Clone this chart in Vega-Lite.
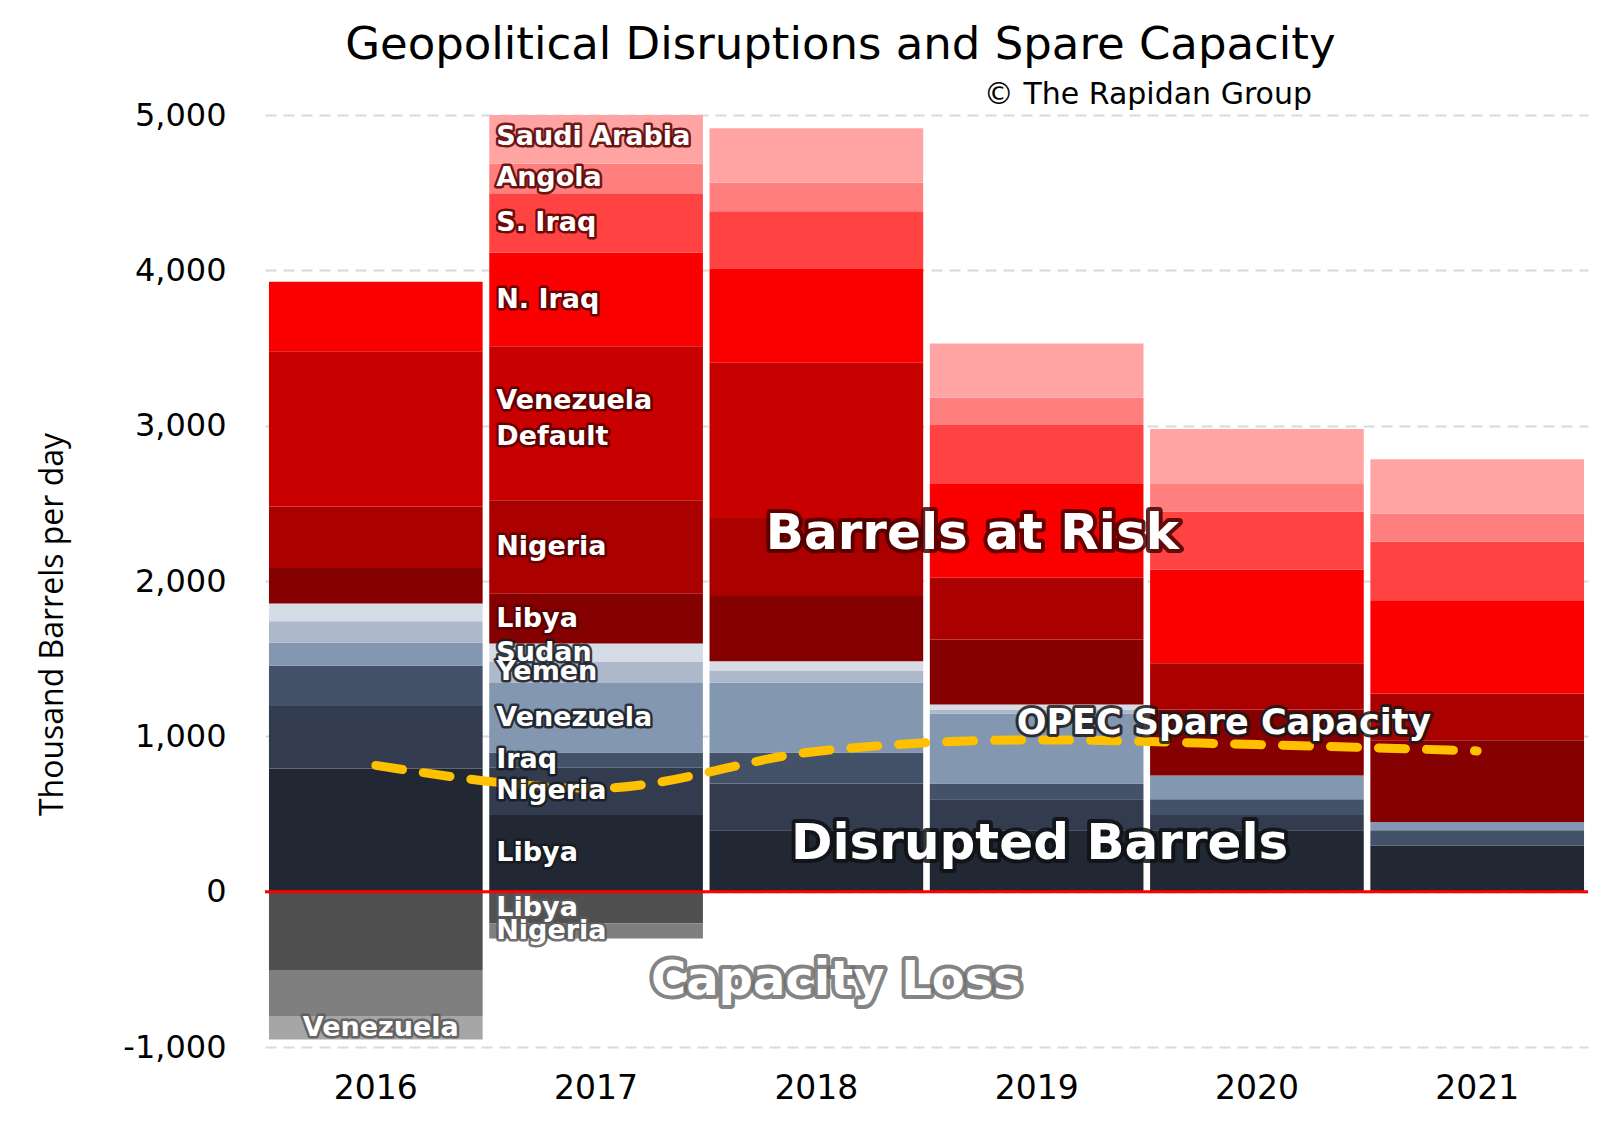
{
  "$schema": "https://vega.github.io/schema/vega-lite/v6.json",
  "width": 1323,
  "height": 932,
  "autosize": {"type": "none"},
  "padding": {"left": 265, "top": 115, "right": 36, "bottom": 77},
  "background": "#ffffff",
  "config": {"view": {"stroke": null}},
  "datasets": {
    "bars": [
      {"year": "2016", "type": "Disrupted", "series": "Disrupted: Libya", "order": 1, "value": 793, "label": ""},
      {"year": "2016", "type": "Disrupted", "series": "Disrupted: Nigeria", "order": 2, "value": 403, "label": ""},
      {"year": "2016", "type": "Disrupted", "series": "Disrupted: Iraq", "order": 3, "value": 260, "label": ""},
      {"year": "2016", "type": "Disrupted", "series": "Disrupted: Venezuela", "order": 4, "value": 148, "label": ""},
      {"year": "2016", "type": "Disrupted", "series": "Disrupted: Yemen", "order": 5, "value": 137, "label": ""},
      {"year": "2016", "type": "Disrupted", "series": "Disrupted: Sudan", "order": 6, "value": 114, "label": ""},
      {"year": "2016", "type": "At risk", "series": "At risk: Libya", "order": 7, "value": 228, "label": ""},
      {"year": "2016", "type": "At risk", "series": "At risk: Nigeria", "order": 8, "value": 396, "label": ""},
      {"year": "2016", "type": "At risk", "series": "At risk: Venezuela Default", "order": 9, "value": 1000, "label": ""},
      {"year": "2016", "type": "At risk", "series": "At risk: N. Iraq", "order": 10, "value": 448, "label": ""},
      {"year": "2016", "type": "Capacity loss", "series": "Capacity loss: Libya", "order": 14, "value": -505, "label": ""},
      {"year": "2016", "type": "Capacity loss", "series": "Capacity loss: Nigeria", "order": 15, "value": -296, "label": ""},
      {"year": "2016", "type": "Capacity loss", "series": "Capacity loss: Venezuela", "order": 16, "value": -150, "label": "Venezuela"},

      {"year": "2017", "type": "Disrupted", "series": "Disrupted: Libya", "order": 1, "value": 494, "label": "Libya"},
      {"year": "2017", "type": "Disrupted", "series": "Disrupted: Nigeria", "order": 2, "value": 303, "label": "Nigeria"},
      {"year": "2017", "type": "Disrupted", "series": "Disrupted: Iraq", "order": 3, "value": 99, "label": "Iraq"},
      {"year": "2017", "type": "Disrupted", "series": "Disrupted: Venezuela", "order": 4, "value": 448, "label": "Venezuela"},
      {"year": "2017", "type": "Disrupted", "series": "Disrupted: Yemen", "order": 5, "value": 135, "label": "Yemen"},
      {"year": "2017", "type": "Disrupted", "series": "Disrupted: Sudan", "order": 6, "value": 119, "label": "Sudan"},
      {"year": "2017", "type": "At risk", "series": "At risk: Libya", "order": 7, "value": 320, "label": "Libya"},
      {"year": "2017", "type": "At risk", "series": "At risk: Nigeria", "order": 8, "value": 602, "label": "Nigeria"},
      {"year": "2017", "type": "At risk", "series": "At risk: Venezuela Default", "order": 9, "value": 991, "label": "Venezuela\nDefault"},
      {"year": "2017", "type": "At risk", "series": "At risk: N. Iraq", "order": 10, "value": 602, "label": "N. Iraq"},
      {"year": "2017", "type": "At risk", "series": "At risk: S. Iraq", "order": 11, "value": 384, "label": "S. Iraq"},
      {"year": "2017", "type": "At risk", "series": "At risk: Angola", "order": 12, "value": 189, "label": "Angola"},
      {"year": "2017", "type": "At risk", "series": "At risk: Saudi Arabia", "order": 13, "value": 350, "label": "Saudi Arabia"},
      {"year": "2017", "type": "Capacity loss", "series": "Capacity loss: Libya", "order": 14, "value": -205, "label": "Libya"},
      {"year": "2017", "type": "Capacity loss", "series": "Capacity loss: Nigeria", "order": 15, "value": -96, "label": "Nigeria"},

      {"year": "2018", "type": "Disrupted", "series": "Disrupted: Libya", "order": 1, "value": 396, "label": ""},
      {"year": "2018", "type": "Disrupted", "series": "Disrupted: Nigeria", "order": 2, "value": 300, "label": ""},
      {"year": "2018", "type": "Disrupted", "series": "Disrupted: Iraq", "order": 3, "value": 200, "label": ""},
      {"year": "2018", "type": "Disrupted", "series": "Disrupted: Venezuela", "order": 4, "value": 451, "label": ""},
      {"year": "2018", "type": "Disrupted", "series": "Disrupted: Yemen", "order": 5, "value": 74, "label": ""},
      {"year": "2018", "type": "Disrupted", "series": "Disrupted: Sudan", "order": 6, "value": 63, "label": ""},
      {"year": "2018", "type": "At risk", "series": "At risk: Libya", "order": 7, "value": 420, "label": ""},
      {"year": "2018", "type": "At risk", "series": "At risk: Nigeria", "order": 8, "value": 501, "label": ""},
      {"year": "2018", "type": "At risk", "series": "At risk: Venezuela Default", "order": 9, "value": 1000, "label": ""},
      {"year": "2018", "type": "At risk", "series": "At risk: N. Iraq", "order": 10, "value": 603, "label": ""},
      {"year": "2018", "type": "At risk", "series": "At risk: S. Iraq", "order": 11, "value": 372, "label": ""},
      {"year": "2018", "type": "At risk", "series": "At risk: Angola", "order": 12, "value": 184, "label": ""},
      {"year": "2018", "type": "At risk", "series": "At risk: Saudi Arabia", "order": 13, "value": 351, "label": ""},

      {"year": "2019", "type": "Disrupted", "series": "Disrupted: Libya", "order": 1, "value": 396, "label": ""},
      {"year": "2019", "type": "Disrupted", "series": "Disrupted: Nigeria", "order": 2, "value": 199, "label": ""},
      {"year": "2019", "type": "Disrupted", "series": "Disrupted: Iraq", "order": 3, "value": 101, "label": ""},
      {"year": "2019", "type": "Disrupted", "series": "Disrupted: Venezuela", "order": 4, "value": 451, "label": ""},
      {"year": "2019", "type": "Disrupted", "series": "Disrupted: Yemen", "order": 5, "value": 26, "label": ""},
      {"year": "2019", "type": "Disrupted", "series": "Disrupted: Sudan", "order": 6, "value": 32, "label": ""},
      {"year": "2019", "type": "At risk", "series": "At risk: Libya", "order": 7, "value": 418, "label": ""},
      {"year": "2019", "type": "At risk", "series": "At risk: Nigeria", "order": 8, "value": 398, "label": ""},
      {"year": "2019", "type": "At risk", "series": "At risk: N. Iraq", "order": 10, "value": 603, "label": ""},
      {"year": "2019", "type": "At risk", "series": "At risk: S. Iraq", "order": 11, "value": 381, "label": ""},
      {"year": "2019", "type": "At risk", "series": "At risk: Angola", "order": 12, "value": 175, "label": ""},
      {"year": "2019", "type": "At risk", "series": "At risk: Saudi Arabia", "order": 13, "value": 349, "label": ""},

      {"year": "2020", "type": "Disrupted", "series": "Disrupted: Libya", "order": 1, "value": 396, "label": ""},
      {"year": "2020", "type": "Disrupted", "series": "Disrupted: Nigeria", "order": 2, "value": 98, "label": ""},
      {"year": "2020", "type": "Disrupted", "series": "Disrupted: Iraq", "order": 3, "value": 101, "label": ""},
      {"year": "2020", "type": "Disrupted", "series": "Disrupted: Venezuela", "order": 4, "value": 153, "label": ""},
      {"year": "2020", "type": "At risk", "series": "At risk: Libya", "order": 7, "value": 425, "label": ""},
      {"year": "2020", "type": "At risk", "series": "At risk: Nigeria", "order": 8, "value": 298, "label": ""},
      {"year": "2020", "type": "At risk", "series": "At risk: N. Iraq", "order": 10, "value": 601, "label": ""},
      {"year": "2020", "type": "At risk", "series": "At risk: S. Iraq", "order": 11, "value": 375, "label": ""},
      {"year": "2020", "type": "At risk", "series": "At risk: Angola", "order": 12, "value": 183, "label": ""},
      {"year": "2020", "type": "At risk", "series": "At risk: Saudi Arabia", "order": 13, "value": 349, "label": ""},

      {"year": "2021", "type": "Disrupted", "series": "Disrupted: Libya", "order": 1, "value": 295, "label": ""},
      {"year": "2021", "type": "Disrupted", "series": "Disrupted: Iraq", "order": 3, "value": 101, "label": ""},
      {"year": "2021", "type": "Disrupted", "series": "Disrupted: Venezuela", "order": 4, "value": 53, "label": ""},
      {"year": "2021", "type": "At risk", "series": "At risk: Libya", "order": 7, "value": 526, "label": ""},
      {"year": "2021", "type": "At risk", "series": "At risk: Nigeria", "order": 8, "value": 300, "label": ""},
      {"year": "2021", "type": "At risk", "series": "At risk: N. Iraq", "order": 10, "value": 601, "label": ""},
      {"year": "2021", "type": "At risk", "series": "At risk: S. Iraq", "order": 11, "value": 376, "label": ""},
      {"year": "2021", "type": "At risk", "series": "At risk: Angola", "order": 12, "value": 182, "label": ""},
      {"year": "2021", "type": "At risk", "series": "At risk: Saudi Arabia", "order": 13, "value": 350, "label": ""}
    ],
    "spare": [
      {"year": "2016", "capacity": 813},
      {"year": "2017", "capacity": 666},
      {"year": "2018", "capacity": 903},
      {"year": "2019", "capacity": 977},
      {"year": "2020", "capacity": 947},
      {"year": "2021", "capacity": 906}
    ],
    "one": [{}]
  },
  "layer": [
    {
      "data": {"name": "bars"},
      "transform": [
        {"stack": "value", "groupby": ["year"], "sort": [{"field": "order", "order": "ascending"}], "as": ["v0", "v1"], "offset": "zero"}
      ],
      "mark": {"type": "bar", "clip": true},
      "encoding": {
        "x": {"field": "year", "type": "nominal", "title": null,
          "scale": {"domain": ["2016", "2017", "2018", "2019", "2020", "2021"], "paddingInner": 0.03, "paddingOuter": 0.018},
          "axis": {"labelAngle": 0, "domain": false, "ticks": false, "grid": false, "labelFont": "DejaVu Sans", "labelFontSize": 33, "labelColor": "#000000", "labelPadding": 25}},
        "y": {"field": "v0", "type": "quantitative", "title": "Thousand Barrels per day",
          "scale": {"domain": [-1000, 5000], "nice": false, "zero": false},
          "axis": {"values": [-1000, 0, 1000, 2000, 3000, 4000, 5000], "format": ",",
            "labelExpr": "replace(format(datum.value, ','), '\u2212', '-')",
            "grid": true, "gridColor": "#D9D9D9", "gridDash": [11, 7], "gridWidth": 2,
            "domain": false, "ticks": false,
            "labelFont": "DejaVu Sans", "labelFontSize": 32, "labelColor": "#000000", "labelPadding": 39,
            "titleFont": "Open Sans", "titleFontSize": 32, "titleFontWeight": "normal", "titleColor": "#000000",
            "titleX": -213, "titleY": 509, "titleAngle": -90, "titleAlign": "center", "titleBaseline": "middle"}},
        "y2": {"field": "v1"},
        "color": {"field": "series", "type": "nominal", "legend": null,
          "scale": {
            "domain": ["Disrupted: Libya", "Disrupted: Nigeria", "Disrupted: Iraq", "Disrupted: Venezuela", "Disrupted: Yemen", "Disrupted: Sudan",
                       "At risk: Libya", "At risk: Nigeria", "At risk: Venezuela Default", "At risk: N. Iraq", "At risk: S. Iraq", "At risk: Angola", "At risk: Saudi Arabia",
                       "Capacity loss: Libya", "Capacity loss: Nigeria", "Capacity loss: Venezuela"],
            "range": ["#222833", "#323C4E", "#435269", "#8497B0", "#ADB9CA", "#D6DCE5",
                      "#850000", "#AA0000", "#C80000", "#FA0000", "#FF4343", "#FF7F7F", "#FFA3A3",
                      "#505050", "#7F7F7F", "#A6A6A6"]}}
      }
    },
    {
      "data": {"name": "one"},
      "mark": {"type": "rule", "color": "#FF0000", "strokeWidth": 3},
      "encoding": {"y": {"datum": 0, "type": "quantitative", "title": "Thousand Barrels per day"}}
    },
    {
      "data": {"name": "spare"},
      "mark": {"type": "line", "color": "#FFC000", "strokeWidth": 9, "strokeDash": [27, 21], "strokeCap": "round", "interpolate": "monotone"},
      "encoding": {
        "x": {"field": "year", "type": "nominal", "title": null},
        "y": {"field": "capacity", "type": "quantitative", "title": "Thousand Barrels per day"}
      }
    },
    {
      "data": {"name": "bars"},
      "transform": [
        {"stack": "value", "groupby": ["year"], "sort": [{"field": "order", "order": "ascending"}], "as": ["v0", "v1"], "offset": "zero"},
        {"calculate": "(datum.v0 + datum.v1) / 2", "as": "mid"},
        {"filter": "datum.label != '' && datum.year != '2016' && datum.order != 9"}
      ],
      "mark": {"type": "text", "align": "left", "baseline": "middle", "dx": 7, "font": "DejaVu Sans", "fontSize": 27, "fontWeight": "bold", "strokeWidth": 5, "strokeJoin": "round", "strokeOpacity": 0.85, "fill": "#222222"},
      "encoding": {
        "x": {"field": "year", "type": "nominal", "bandPosition": 0, "title": null},
        "y": {"field": "mid", "type": "quantitative", "title": "Thousand Barrels per day"},
        "text": {"field": "label"},
        "stroke": {"field": "type", "type": "nominal", "legend": null, "scale": {"domain": ["At risk", "Disrupted", "Capacity loss"], "range": ["#560000", "#161a22", "#5a5a5a"]}}
      }
    },
    {
      "data": {"name": "bars"},
      "transform": [
        {"stack": "value", "groupby": ["year"], "sort": [{"field": "order", "order": "ascending"}], "as": ["v0", "v1"], "offset": "zero"},
        {"calculate": "(datum.v0 + datum.v1) / 2", "as": "mid"},
        {"filter": "datum.label != '' && datum.year != '2016' && datum.order != 9"}
      ],
      "mark": {"type": "text", "align": "left", "baseline": "middle", "dx": 7, "font": "DejaVu Sans", "fontSize": 27, "fontWeight": "bold", "fill": "#FFFFFF"},
      "encoding": {
        "x": {"field": "year", "type": "nominal", "bandPosition": 0, "title": null},
        "y": {"field": "mid", "type": "quantitative", "title": "Thousand Barrels per day"},
        "text": {"field": "label"}
      }
    },
    {
      "data": {"name": "bars"},
      "transform": [
        {"stack": "value", "groupby": ["year"], "sort": [{"field": "order", "order": "ascending"}], "as": ["v0", "v1"], "offset": "zero"},
        {"calculate": "(datum.v0 + datum.v1) / 2", "as": "mid"},
        {"filter": "datum.label != '' && datum.year != '2016' && datum.order == 9"}
      ],
      "mark": {"type": "text", "align": "left", "baseline": "middle", "dx": 7, "dy": -22, "font": "DejaVu Sans", "fontSize": 27, "fontWeight": "bold", "lineBreak": "\n", "lineHeight": 36, "strokeWidth": 5, "strokeJoin": "round", "strokeOpacity": 0.85, "stroke": "#560000", "fill": "#222222"},
      "encoding": {
        "x": {"field": "year", "type": "nominal", "bandPosition": 0, "title": null},
        "y": {"field": "mid", "type": "quantitative", "title": "Thousand Barrels per day"},
        "text": {"field": "label"}
      }
    },
    {
      "data": {"name": "bars"},
      "transform": [
        {"stack": "value", "groupby": ["year"], "sort": [{"field": "order", "order": "ascending"}], "as": ["v0", "v1"], "offset": "zero"},
        {"calculate": "(datum.v0 + datum.v1) / 2", "as": "mid"},
        {"filter": "datum.label != '' && datum.year != '2016' && datum.order == 9"}
      ],
      "mark": {"type": "text", "align": "left", "baseline": "middle", "dx": 7, "dy": -22, "font": "DejaVu Sans", "fontSize": 27, "fontWeight": "bold", "lineBreak": "\n", "lineHeight": 36, "fill": "#FFFFFF"},
      "encoding": {
        "x": {"field": "year", "type": "nominal", "bandPosition": 0, "title": null},
        "y": {"field": "mid", "type": "quantitative", "title": "Thousand Barrels per day"},
        "text": {"field": "label"}
      }
    },
    {
      "data": {"name": "bars"},
      "transform": [
        {"stack": "value", "groupby": ["year"], "sort": [{"field": "order", "order": "ascending"}], "as": ["v0", "v1"], "offset": "zero"},
        {"calculate": "(datum.v0 + datum.v1) / 2", "as": "mid"},
        {"filter": "datum.label != '' && datum.year == '2016'"}
      ],
      "mark": {"type": "text", "align": "center", "baseline": "middle", "dx": 5, "font": "DejaVu Sans", "fontSize": 27, "fontWeight": "bold", "strokeWidth": 5, "strokeJoin": "round", "strokeOpacity": 0.85, "stroke": "#5a5a5a", "fill": "#222222"},
      "encoding": {
        "x": {"field": "year", "type": "nominal", "title": null},
        "y": {"field": "mid", "type": "quantitative", "title": "Thousand Barrels per day"},
        "text": {"field": "label"}
      }
    },
    {
      "data": {"name": "bars"},
      "transform": [
        {"stack": "value", "groupby": ["year"], "sort": [{"field": "order", "order": "ascending"}], "as": ["v0", "v1"], "offset": "zero"},
        {"calculate": "(datum.v0 + datum.v1) / 2", "as": "mid"},
        {"filter": "datum.label != '' && datum.year == '2016'"}
      ],
      "mark": {"type": "text", "align": "center", "baseline": "middle", "dx": 5, "font": "DejaVu Sans", "fontSize": 27, "fontWeight": "bold", "fill": "#FFFFFF"},
      "encoding": {
        "x": {"field": "year", "type": "nominal", "title": null},
        "y": {"field": "mid", "type": "quantitative", "title": "Thousand Barrels per day"},
        "text": {"field": "label"}
      }
    },
    {
      "data": {"name": "one"},
      "mark": {"type": "text", "text": "Barrels at Risk", "font": "DejaVu Sans", "fontWeight": "bold", "fontSize": 50, "align": "center", "baseline": "middle", "dx": 156, "stroke": "#4a0000", "strokeWidth": 8, "strokeJoin": "round", "strokeOpacity": 0.85, "fill": "#4a0000"},
      "encoding": {"x": {"datum": "2018", "type": "nominal", "title": null}, "y": {"datum": 2301, "type": "quantitative", "title": "Thousand Barrels per day"}}
    },
    {
      "data": {"name": "one"},
      "mark": {"type": "text", "text": "Barrels at Risk", "font": "DejaVu Sans", "fontWeight": "bold", "fontSize": 50, "align": "center", "baseline": "middle", "dx": 156, "fill": "#FFFFFF"},
      "encoding": {"x": {"datum": "2018", "type": "nominal", "title": null}, "y": {"datum": 2301, "type": "quantitative", "title": "Thousand Barrels per day"}}
    },
    {
      "data": {"name": "one"},
      "mark": {"type": "text", "text": "Disrupted Barrels", "font": "DejaVu Sans", "fontWeight": "bold", "fontSize": 50, "align": "center", "baseline": "middle", "dx": 3, "stroke": "#0e1015", "strokeWidth": 8, "strokeJoin": "round", "strokeOpacity": 0.85, "fill": "#0e1015"},
      "encoding": {"x": {"datum": "2019", "type": "nominal", "title": null}, "y": {"datum": 306, "type": "quantitative", "title": "Thousand Barrels per day"}}
    },
    {
      "data": {"name": "one"},
      "mark": {"type": "text", "text": "Disrupted Barrels", "font": "DejaVu Sans", "fontWeight": "bold", "fontSize": 50, "align": "center", "baseline": "middle", "dx": 3, "fill": "#FFFFFF"},
      "encoding": {"x": {"datum": "2019", "type": "nominal", "title": null}, "y": {"datum": 306, "type": "quantitative", "title": "Thousand Barrels per day"}}
    },
    {
      "data": {"name": "one"},
      "mark": {"type": "text", "text": "Capacity Loss", "font": "DejaVu Sans", "fontWeight": "bold", "fontSize": 48, "align": "center", "baseline": "middle", "dx": 20, "stroke": "#6e6e6e", "strokeWidth": 8, "strokeJoin": "round", "strokeOpacity": 0.85, "fill": "#6e6e6e"},
      "encoding": {"x": {"datum": "2018", "type": "nominal", "title": null}, "y": {"datum": -577, "type": "quantitative", "title": "Thousand Barrels per day"}}
    },
    {
      "data": {"name": "one"},
      "mark": {"type": "text", "text": "Capacity Loss", "font": "DejaVu Sans", "fontWeight": "bold", "fontSize": 48, "align": "center", "baseline": "middle", "dx": 20, "fill": "#FFFFFF"},
      "encoding": {"x": {"datum": "2018", "type": "nominal", "title": null}, "y": {"datum": -577, "type": "quantitative", "title": "Thousand Barrels per day"}}
    },
    {
      "data": {"name": "one"},
      "mark": {"type": "text", "text": "OPEC Spare Capacity", "font": "DejaVu Sans", "fontWeight": "bold", "fontSize": 35, "align": "center", "baseline": "middle", "dx": -33, "stroke": "#1a1a1a", "strokeWidth": 6, "strokeJoin": "round", "strokeOpacity": 0.85, "fill": "#1a1a1a"},
      "encoding": {"x": {"datum": "2020", "type": "nominal", "title": null}, "y": {"datum": 1085, "type": "quantitative", "title": "Thousand Barrels per day"}}
    },
    {
      "data": {"name": "one"},
      "mark": {"type": "text", "text": "OPEC Spare Capacity", "font": "DejaVu Sans", "fontWeight": "bold", "fontSize": 35, "align": "center", "baseline": "middle", "dx": -33, "fill": "#FFFFFF"},
      "encoding": {"x": {"datum": "2020", "type": "nominal", "title": null}, "y": {"datum": 1085, "type": "quantitative", "title": "Thousand Barrels per day"}}
    },
    {
      "data": {"name": "one"},
      "mark": {"type": "text", "text": "Geopolitical Disruptions and Spare Capacity", "font": "DejaVu Sans", "fontSize": 45, "align": "center", "baseline": "alphabetic", "dx": 24, "dy": -56, "fill": "#000000"},
      "encoding": {"x": {"datum": "2018", "type": "nominal", "title": null}, "y": {"datum": 5000, "type": "quantitative", "title": "Thousand Barrels per day"}}
    },
    {
      "data": {"name": "one"},
      "mark": {"type": "text", "text": "\u00a9 The Rapidan Group", "font": "DejaVu Sans", "fontSize": 30, "align": "center", "baseline": "alphabetic", "dx": -109, "dy": -11, "fill": "#000000"},
      "encoding": {"x": {"datum": "2020", "type": "nominal", "title": null}, "y": {"datum": 5000, "type": "quantitative", "title": "Thousand Barrels per day"}}
    }
  ]
}
